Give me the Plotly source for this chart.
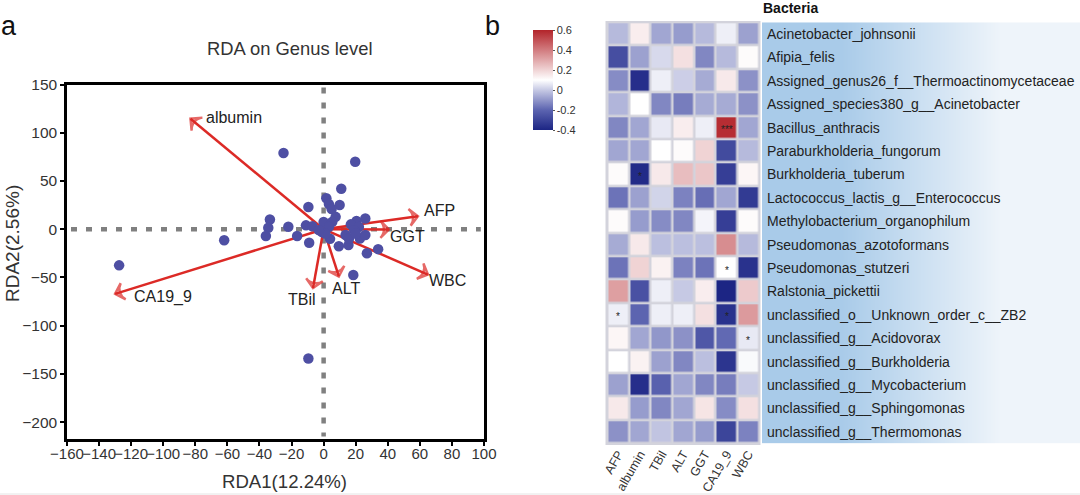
import plotly.graph_objects as go

# =========================================================
# Panel a: RDA biplot
# =========================================================
site_x = [-25, 19.7, 11, 1.7, 3.3, 10, 5, -9.5, -33.5, -34.5, -36, -22, -16.5, -11, -7, -9, -62, -127.5,
          -9.5, 18.5, 34, 27, 9.5, 15.5, 4, 0, 7.5, 5.4, 3.3, -1, 1, -3,
          26, 20.5, 17, 22, 19, 13.7, 15.8, 22.6, 26, 20]
site_y = [79, 70, 42, 32, 26, 25, 21, 23, 10, 1.5, -7, 2.5, -7, 4, 3, -14, -11.5, -37.5,
          -134, -47.5, -20.7, -25, -17.6, -16.5, -10, 7.5, 12.8, 7.6, 2.4, -3, -4.5, -1,
          11, 8.6, 5, 2.4, -1, -6, -9.6, -9.6, -6, -4.5]

env_names = ["albumin", "CA19_9", "AFP", "GGT", "WBC", "ALT", "TBil"]
env_x = [-83, -130, 58.8, 40.7, 65, 9.5, -6.6]
env_y = [114.5, -67, 13.4, -0.3, -47, -49, -61]
# label centres
env_label_x = [-56, -100, 72, 52.5, 77, 14, -13.5]
env_label_y = [116, -70, 19, -8, -53, -61, -73]

x_ticks = list(range(-160, 101, 20))
y_ticks = [150, 100, 50, 0, -50, -100, -150, -200]

# =========================================================
# Panel b: correlation heatmap
# =========================================================
bacteria = [
    "Acinetobacter_johnsonii", "Afipia_felis", "Assigned_genus26_f__Thermoactinomycetaceae",
    "Assigned_species380_g__Acinetobacter", "Bacillus_anthracis", "Paraburkholderia_fungorum",
    "Burkholderia_tuberum", "Lactococcus_lactis_g__Enterococcus", "Methylobacterium_organophilum",
    "Pseudomonas_azotoformans", "Pseudomonas_stutzeri", "Ralstonia_pickettii",
    "unclassified_o__Unknown_order_c__ZB2", "unclassified_g__Acidovorax", "unclassified_g__Burkholderia",
    "unclassified_g__Mycobacterium", "unclassified_g__Sphingomonas", "unclassified_g__Thermomonas",
]
clinical = ["AFP", "albumin", "TBil", "ALT", "GGT", "CA19_9", "WBC"]
corr = [
    [-0.03, 0.14, -0.07, -0.09, -0.03, 0.07, -0.08],
    [-0.27, -0.08, 0.03, 0.17, -0.13, -0.03, 0.11],
    [-0.12, -0.37, 0.07, 0.01, -0.06, 0.15, -0.11],
    [-0.04, 0.10, -0.13, -0.15, -0.06, -0.06, -0.11],
    [-0.13, -0.07, 0.06, 0.14, 0.07, 0.58, -0.07],
    [-0.07, -0.07, 0.10, 0.11, 0.20, -0.28, -0.03],
    [0.11, -0.38, 0.15, 0.25, 0.23, -0.32, 0.12],
    [-0.17, -0.08, 0.02, -0.14, -0.18, -0.07, -0.33],
    [0.11, -0.09, -0.12, -0.13, 0.08, -0.32, 0.11],
    [-0.06, 0.15, -0.02, -0.02, -0.02, 0.36, -0.03],
    [-0.17, 0.20, 0.13, -0.14, -0.17, 0.10, -0.36],
    [0.32, -0.26, 0.07, 0.00, 0.14, -0.40, 0.22],
    [0.07, -0.20, 0.07, 0.07, 0.17, -0.36, 0.33],
    [0.12, -0.07, -0.10, -0.11, -0.24, -0.19, 0.06],
    [0.10, 0.13, -0.08, -0.13, -0.02, -0.35, 0.09],
    [-0.08, -0.37, -0.21, -0.07, -0.13, -0.15, 0.00],
    [0.15, -0.09, -0.13, -0.07, 0.16, -0.12, 0.17],
    [-0.11, -0.07, -0.01, -0.07, -0.09, -0.30, -0.14],
]
# significance marks: (row, column, text)
stars = [(4, 5, "***"), (6, 1, "*"), (10, 5, "*"), (12, 0, "*"), (12, 5, "*"), (13, 6, "*")]
cbar_ticks = [0.6, 0.4, 0.2, 0, -0.2, -0.4]

W, H = 1080, 495
FONT = "Liberation Sans, Arial, sans-serif"
TXT = "#333333"


def px_x(a, b):
    return [a / W, b / W]


def px_y(top, bottom):
    return [1 - bottom / H, 1 - top / H]


fig = go.Figure()

# ---- biplot ----
# arrows sit under the site points, so they are line traces and not annotations
for i, name in enumerate(env_names):
    fig.add_trace(go.Scatter(
        x=[0, env_x[i]], y=[0, env_y[i]], mode="lines+markers", xaxis="x", yaxis="y", hoverinfo="skip",
        line=dict(color="#dc2a26", width=2.5),
        marker=dict(symbol="arrow-wide-open", size=[0, 12], angleref="previous", color="#dc2a26",
                    line=dict(color="#dc2a26", width=2.5)),
    ))
    fig.add_annotation(
        x=env_label_x[i], y=env_label_y[i], xref="x", yref="y", text=name, showarrow=False,
        xanchor="center", font=dict(family=FONT, size=16, color="#222222"),
    )
fig.add_trace(go.Scatter(
    x=site_x, y=site_y, mode="markers", xaxis="x", yaxis="y",
    marker=dict(size=10.5, color="#4e4fa3"),
))

fig.add_shape(type="line", xref="x", yref="y", x0=-157.5, x1=98, y0=0, y1=0, layer="below",
              line=dict(color="#808080", width=4.5, dash="6px,9px"))
fig.add_shape(type="line", xref="x", yref="y", x0=0, x1=0, y0=147, y1=-215, layer="below",
              line=dict(color="#808080", width=4.5, dash="6px,9px"))

fig.update_layout(
    xaxis=dict(domain=px_x(67, 484), range=[-160, 100], tickvals=x_ticks, tickangle=0, ticks="outside", ticklen=4,
               tickwidth=2, tickcolor="black", showgrid=False, zeroline=False, showline=True, linecolor="black",
               linewidth=2.5, mirror=True, ticklabelstandoff=-5,
               tickfont=dict(family=FONT, size=15, color=TXT), title=None),
    yaxis=dict(domain=px_y(84.5, 439), range=[-217.5, 150], tickvals=y_ticks, ticks="outside", ticklen=4, tickwidth=2,
               tickcolor="black", showgrid=False, zeroline=False, showline=True, linecolor="black", linewidth=2.5,
               mirror=True, tickfont=dict(family=FONT, size=15.5, color=TXT), title=None),
)

# ---- heatmap ----
fig.add_trace(go.Heatmap(
    z=corr, x=clinical, y=bacteria, xaxis="x2", yaxis="y2", xgap=2.5, ygap=2.5,
    zmin=-0.4, zmax=0.6,
    colorscale=[[0, "#1c2584"], [0.2, "#5c64b0"], [0.4, "#c6c9e4"], [0.5, "#ffffff"], [1, "#b3242a"]],
    colorbar=dict(
        x=533 / W, xanchor="left", y=1 - 30 / H, yanchor="top", len=100 / H, lenmode="fraction",
        thickness=20, thicknessmode="pixels", outlinewidth=0, xpad=0, ypad=0,
        tickvals=cbar_ticks, ticktext=["0.6", "0.4", "0.2", "0", "-0.2", "-0.4"],
        ticks="outside", ticklen=2, tickcolor="#555555", tickfont=dict(family=FONT, size=11, color=TXT),
    ),
))
for r, c, mark in stars:
    fig.add_annotation(x=clinical[c], y=bacteria[r], xref="x2", yref="y2", text=mark, showarrow=False,
                       yshift=-2, font=dict(family=FONT, size=10, color="#222222"))

# gradient strip behind the bacteria names
fig.add_trace(go.Heatmap(
    z=[[0, 1]], xaxis="x3", yaxis="y3", zsmooth="best", showscale=False, hoverinfo="skip",
    colorscale=[[0, "#a9cbe9"], [1, "#eef4fa"]],
))
fig.update_layout(
    xaxis2=dict(domain=px_x(607.5, 759), anchor="y2", side="bottom", tickangle=-60, ticks="", showgrid=False,
                zeroline=False, tickfont=dict(family=FONT, size=12.5, color=TXT)),
    yaxis2=dict(domain=px_y(22.3, 443.6), anchor="x2", autorange="reversed", showticklabels=False, ticks="",
                showgrid=False, zeroline=False),
    xaxis3=dict(domain=px_x(762, 1080), anchor="y3", visible=False),
    yaxis3=dict(domain=px_y(22.3, 443.6), anchor="x3", visible=False),
)
fig.add_shape(type="rect", xref="paper", yref="paper", layer="below", x0=605.5 / W, x1=760.5 / W,
              y0=1 - 445 / H, y1=1 - 21 / H, fillcolor="#d3d3dc", line_width=0)
fig.add_shape(type="line", xref="paper", yref="paper", layer="below", x0=0, x1=1, y0=1 / H, y1=1 / H,
              line=dict(color="#e4e4e4", width=1))

for name in bacteria:
    fig.add_annotation(x=765 / W, y=name, xref="paper", yref="y2", xanchor="left", text=name, showarrow=False,
                       font=dict(family=FONT, size=14, color="#222222"))

# ---- free text ----
texts = [
    ("a", -1, 26, 27, "#111111", "left"),
    ("b", 483, 26, 27, "#111111", "left"),
    ("RDA on Genus level", 290, 49, 18.4, TXT, "center"),
    ("RDA1(12.24%)", 284.5, 481, 18.6, TXT, "center"),
    ("<b>Bacteria</b>", 761, 8, 14, "#111111", "left"),
]
for text, px, py, size, color, anchor in texts:
    fig.add_annotation(x=px / W, y=1 - py / H, xref="paper", yref="paper", text=text, showarrow=False,
                       xanchor=anchor, yanchor="middle", font=dict(family=FONT, size=size, color=color))
fig.add_annotation(x=12 / W, y=1 - 244 / H, xref="paper", yref="paper", text="RDA2(2.56%)", textangle=-90,
                   xanchor="center", showarrow=False, font=dict(family=FONT, size=19, color=TXT))

fig.update_layout(
    width=W, height=H, margin=dict(l=0, r=0, t=0, b=0, autoexpand=False), paper_bgcolor="white",
    plot_bgcolor="white", showlegend=False,
)

fig.write_html("out.html", post_script="document.body.style.margin='0';", config={"displayModeBar": False})
